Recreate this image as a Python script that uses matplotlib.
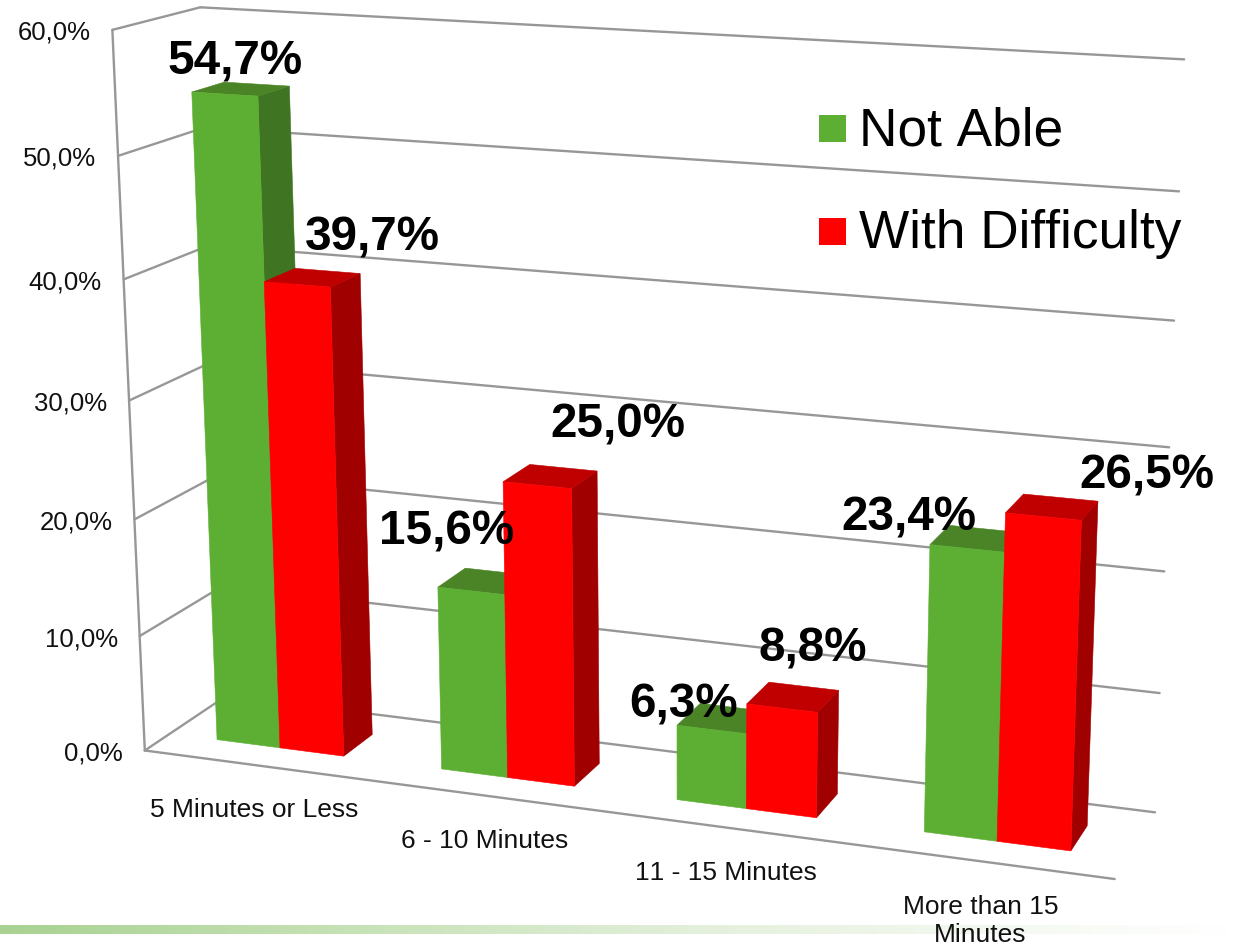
import numpy as np
import matplotlib
matplotlib.use("Agg")
import matplotlib.pyplot as plt
from matplotlib.patches import Patch, Rectangle
from matplotlib.legend_handler import HandlerPatch
from matplotlib.colors import LinearSegmentedColormap

plt.rcParams['font.family'] = ['Liberation Sans', 'DejaVu Sans']
plt.rcParams['text.kerning_factor'] = 6

categories = ["5 Minutes or Less", "6 - 10 Minutes", "11 - 15 Minutes", "More than 15\nMinutes"]
not_able = [54.7, 15.6, 6.3, 23.4]
with_difficulty = [39.7, 25.0, 8.8, 26.5]
y_ticks = [0, 10, 20, 30, 40, 50, 60]

# label shift from the centre of each bar's top, pixels
not_able_shift = [(-6, -28), (-38, -50), (-40, -14), (-68, -22)]
with_difficulty_shift = [(60, -41), (67, -52), (20, -49), (95, -32)]

GREEN = ('#5DAF33', '#3F7522', '#4A8426')
RED = ('#FF0000', '#A00000', '#C00000')
GRID = '#979797'

BAR_W = 0.285
BAR_MARGIN = 0.215
Z_FRONT = 0.30
Z_BACK = 0.68

# box corners (category, value, depth) and where they land on the canvas
box_corners = [(0, 0, 0), (0, 60, 0), (0, 60, 1), (0, 0, 1), (4, 0, 0), (4, 0, 1), (4, 60, 1),
               (0, 30, 0), (4, 30, 1)]
box_pixels = [(143, 752), (113, 32), (199, 8), (228, 697), (1115, 880), (1155, 813), (1185, 60),
              (130, 400), (1168, 449)]


def fit_camera(corners, pixels):
    rows, rhs = [], []
    for (x, y, z), (u, v) in zip(corners, pixels):
        rows.append([x, y, z, 1, 0, 0, 0, 0, -u * x, -u * y, -u * z])
        rows.append([0, 0, 0, 0, x, y, z, 1, -v * x, -v * y, -v * z])
        rhs += [u, v]
    m = np.linalg.lstsq(np.array(rows, float), np.array(rhs, float), rcond=None)[0]
    return np.append(m, 1).reshape(3, 4)


CAMERA = fit_camera(box_corners, box_pixels)


def project(x, y, z):
    p = CAMERA @ np.array([x, y, z, 1.0])
    return p[0] / p[2], p[1] / p[2]


def pct(val):
    return ("%.1f%%" % val).replace('.', ',')


def line3d(ax, a, b):
    ua, va = project(*a)
    ub, vb = project(*b)
    ax.plot([ua, ub], [va, vb], color=GRID, lw=1.7, solid_capstyle='round', zorder=1)


def draw_bar(ax, x0, x1, h, colors, z):
    front = [(x0, 0, Z_FRONT), (x1, 0, Z_FRONT), (x1, h, Z_FRONT), (x0, h, Z_FRONT)]
    side = [(x1, 0, Z_FRONT), (x1, 0, Z_BACK), (x1, h, Z_BACK), (x1, h, Z_FRONT)]
    top = [(x0, h, Z_FRONT), (x1, h, Z_FRONT), (x1, h, Z_BACK), (x0, h, Z_BACK)]
    for face, c in ((side, colors[1]), (top, colors[2]), (front, colors[0])):
        pts = [project(*p) for p in face]
        ax.fill([p[0] for p in pts], [p[1] for p in pts], facecolor=c, edgecolor=c, lw=0.4, zorder=z)
    return project((x0 + x1) / 2, h, (Z_FRONT + Z_BACK) / 2)


def legend_square(legend, orig_handle, xdescent, ydescent, width, height, fontsize):
    # sits a little lower than the default patch handle
    return Rectangle((-xdescent, -ydescent - 2.5), width, height)


fig = plt.figure(figsize=(12.34, 9.45), dpi=100)
ax = fig.add_axes([0, 0, 1, 1])

# pale green strip along the bottom of the slide
strip = LinearSegmentedColormap.from_list('strip', [(0, '#A9D292'), (0.25, '#C3E0B2'), (0.6, '#E6F1DF'), (1, '#FFFFFF')])
ax.imshow(np.linspace(0, 1, 400).reshape(1, -1), cmap=strip, extent=(0, 1234, 935, 926), aspect='auto', zorder=0)

ax.set_xlim(0, 1234)
ax.set_ylim(945, 0)
ax.axis('off')

# walls and floor
for t in y_ticks:
    line3d(ax, (0, t, 0), (0, t, 1))
    line3d(ax, (0, t, 1), (4, t, 1))
    u, v = project(0, t, 0)
    ax.text(u - 22, v + 2, pct(t), ha='right', va='center', fontsize=18.5, color='#111111')
line3d(ax, (0, 0, 0), (0, 60, 0))
line3d(ax, (0, 0, 0), (4, 0, 0))

labels = []
for i, name in enumerate(categories):
    x0 = i + BAR_MARGIN
    top_a = draw_bar(ax, x0, x0 + BAR_W, not_able[i], GREEN, 3 + 2 * i)
    top_b = draw_bar(ax, x0 + BAR_W, x0 + 2 * BAR_W, with_difficulty[i], RED, 4 + 2 * i)
    labels.append((top_a, not_able_shift[i], not_able[i]))
    labels.append((top_b, with_difficulty_shift[i], with_difficulty[i]))

    u, v = project(i + 0.5, 0, 0)
    ax.text(u - 2, v + 32, name, ha='center', va='top', fontsize=19, color='#111111',
            linespacing=1.25, zorder=20)

for (u, v), (dx, dy), val in labels:
    ax.text(u + dx, v + dy, pct(val), ha='center', va='center',
            fontsize=34.3, fontweight='bold', color='black', zorder=20)

handles = [Patch(facecolor=GREEN[0], lw=0, label='Not Able'), Patch(facecolor=RED[0], lw=0, label='With Difficulty')]
ax.legend(handles=handles, loc='upper left', bbox_to_anchor=(819, 106), bbox_transform=ax.transData,
          frameon=False, fontsize=38.3, handlelength=0.51, handleheight=0.4077, handletextpad=0.24,
          labelspacing=0.995, borderpad=0, borderaxespad=0,
          handler_map={Patch: HandlerPatch(patch_func=legend_square)})

fig.savefig('out.png', dpi=100)
